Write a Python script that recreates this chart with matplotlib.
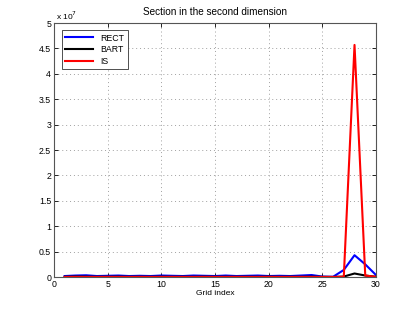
import matplotlib
matplotlib.use("Agg")
import matplotlib.pyplot as plt
import numpy as np

grid_index = np.arange(1, 31)
rect = [0.2e6, 0.3e6, 0.35e6, 0.2e6, 0.25e6, 0.3e6, 0.2e6, 0.25e6, 0.2e6, 0.3e6,
        0.25e6, 0.2e6, 0.3e6, 0.25e6, 0.2e6, 0.3e6, 0.2e6, 0.25e6, 0.3e6, 0.2e6,
        0.25e6, 0.2e6, 0.3e6, 0.4e6, 0.1e6, 0.05e6, 1.4e6, 4.3e6, 2.5e6, 0.4e6]
bart = [0.05e6, 0.1e6, 0.08e6, 0.05e6, 0.06e6, 0.08e6, 0.05e6, 0.06e6, 0.05e6, 0.07e6,
        0.05e6, 0.06e6, 0.05e6, 0.07e6, 0.05e6, 0.06e6, 0.05e6, 0.06e6, 0.05e6, 0.07e6,
        0.05e6, 0.06e6, 0.05e6, 0.08e6, 0.03e6, 0.02e6, 0.1e6, 0.7e6, 0.3e6, 0.05e6]
is_vals = [0.02e6, 0.03e6, 0.02e6, 0.02e6, 0.03e6, 0.02e6, 0.02e6, 0.03e6, 0.02e6, 0.02e6,
           0.03e6, 0.02e6, 0.02e6, 0.03e6, 0.02e6, 0.02e6, 0.03e6, 0.02e6, 0.02e6, 0.03e6,
           0.02e6, 0.02e6, 0.03e6, 0.02e6, 0.02e6, 0.02e6, 0.05e6, 45.7e6, 0.3e6, 0.05e6]

plt.rcParams["font.family"] = ["Liberation Sans", "DejaVu Sans"]
plt.rcParams["font.size"] = 6

fig = plt.figure(figsize=(4.15, 3.12), dpi=100)
ax = fig.add_axes([0.130, 0.112, 0.776, 0.814])

ax.plot(grid_index, rect, color="blue", lw=1.5, label="RECT")
ax.plot(grid_index, bart, color="black", lw=1.5, label="BART")
ax.plot(grid_index, is_vals, color="red", lw=1.5, label="IS")

ax.set_xlim(0, 30)
ax.set_ylim(0, 5e7)
ax.set_xticks(np.arange(0, 31, 5))
ax.set_yticks(np.arange(0, 5.01e7, 0.5e7))
ax.set_yticklabels(["0", "0.5", "1", "1.5", "2", "2.5", "3", "3.5", "4", "4.5", "5"])
ax.text(0.005, 1.005, r"x 10$^7$", transform=ax.transAxes, fontsize=6, va="bottom", ha="left")
ax.grid(True, linestyle=(0, (1, 3)), color="#a0a0a0", lw=0.7)
ax.tick_params(direction="in", length=3, width=0.6, pad=2, top=True, right=True,
               labeltop=False, labelright=False, labelsize=6.3)
for sp in ax.spines.values():
    sp.set_color("#555555")
    sp.set_linewidth(0.8)

ax.set_xlabel("Grid index", labelpad=1)
ax.set_title("Section in the second dimension", pad=6)
leg = ax.legend(loc="upper left", fancybox=False, edgecolor="#333333", framealpha=1,
                handlelength=3.2, borderpad=0.4, labelspacing=0.3, fontsize=6.3,
                bbox_to_anchor=(0.01, 0.99))
leg.get_frame().set_linewidth(0.6)

fig.savefig("out.png", dpi=100)
